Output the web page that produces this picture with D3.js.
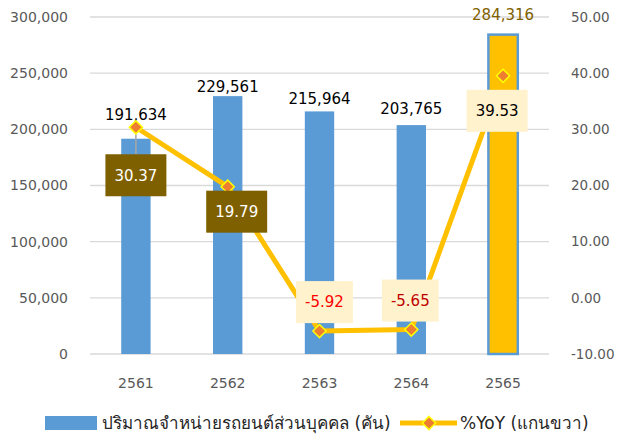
<!DOCTYPE html>
<html lang="th">
<head>
<meta charset="UTF-8">
<title>ปริมาณจำหน่ายรถยนต์ส่วนบุคคล</title>
<script src="https://d3js.org/d3.v7.min.js"></script>
<style>
    body, html { margin: 0; background: #fff; }
    svg text { font-family: 'DejaVu Sans', 'Noto Sans', sans-serif; }
</style>
</head>
<body>
<svg id="chart" width="618" height="434"></svg>
<script>
    // data
    const years = ["2561", "2562", "2563", "2564", "2565"];
    const sales = [191634, 229561, 215964, 203765, 284316];
    const yoy = [30.37, 19.79, -5.92, -5.65, 39.53];
    const leftTicks = [0, 50000, 100000, 150000, 200000, 250000, 300000];
    const rightTicks = [-10, 0, 10, 20, 30, 40, 50];
    const barName = "ปริมาณจำหน่ายรถยนต์ส่วนบุคคล (คัน)";
    const lineName = "%YoY (แกนขวา)";

    // label placement (layout only)
    const salesLabelGap = [24, 9, 13, 16, 20];
    const yoyBox = [
        { dx: 0, dy: 48, fill: "#7F6000", color: "#fff" },
        { dx: 9, dy: 25, fill: "#7F6000", color: "#fff" },
        { dx: 5, dy: -29, fill: "#FFF2CC", color: "#FF0000" },
        { dx: -1, dy: -29, fill: "#FFF2CC", color: "#C00000" },
        { dx: -6, dy: 35, fill: "#FFF2CC", color: "#000" }
    ];

    // hyphen minus like the original
    const loc = d3.formatLocale({ decimal: ".", thousands: ",", grouping: [3], currency: ["", ""], minus: "-" });
    const fmtInt = loc.format(",");
    const fmt2 = loc.format(".2f");

    const svg = d3.select("#chart");
    const plotL = 90, plotR = 549, plotT = 17, plotB = 354;

    const x = d3.scaleBand().domain(years).range([plotL, plotR])
        .paddingInner(0.68).paddingOuter(0.34);
    const y = d3.scaleLinear().domain([0, 300000]).range([plotB, plotT]);
    const y2 = d3.scaleLinear().domain([-10, 50]).range([plotB, plotT]);
    const cx = d => x(d) + x.bandwidth() / 2;

    // gridlines
    svg.append("g").selectAll("line").data(leftTicks).join("line")
        .attr("x1", plotL).attr("x2", plotR)
        .attr("y1", d => y(d)).attr("y2", d => y(d))
        .attr("stroke", "#D9D9D9").attr("stroke-width", 1.3);

    // axes
    const axL = svg.append("g").attr("transform", `translate(${plotL - 22},0)`)
        .call(d3.axisLeft(y).tickValues(leftTicks).tickSize(0).tickFormat(fmtInt));
    const axR = svg.append("g").attr("transform", `translate(${plotR + 22},0)`)
        .call(d3.axisRight(y2).tickValues(rightTicks).tickSize(0).tickFormat(fmt2));
    const axB = svg.append("g").attr("transform", `translate(0,${plotB + 21})`)
        .call(d3.axisBottom(x).tickSize(0));
    [axL, axR, axB].forEach(a => {
        a.select(".domain").remove();
        a.selectAll("text").attr("fill", "#595959")
            .style("font-size", "14px").style("font-family", "'DejaVu Sans', sans-serif");
    });
    axR.selectAll("text").attr("x", 0).style("font-size", "13.5px");
    axL.selectAll("text").attr("x", 0);

    // bars
    svg.append("g").selectAll("rect").data(years).join("rect")
        .attr("x", d => x(d))
        .attr("y", (d, i) => y(sales[i]))
        .attr("width", x.bandwidth())
        .attr("height", (d, i) => plotB - y(sales[i]))
        .attr("fill", (d, i) => i === 4 ? "#FFC000" : "#5B9BD5")
        .attr("stroke", (d, i) => i === 4 ? "#5B9BD5" : "none")
        .attr("stroke-width", 2.5);

    // bar labels
    svg.append("g").selectAll("text").data(years).join("text")
        .attr("x", d => cx(d))
        .attr("y", (d, i) => y(sales[i]) - salesLabelGap[i])
        .attr("dy", "0.35em")
        .attr("text-anchor", "middle")
        .attr("fill", (d, i) => i === 4 ? "#7F6000" : "#000")
        .style("font-size", "15px")
        .text((d, i) => fmtInt(sales[i]));

    // leader lines
    const leaders = svg.append("g").attr("stroke", "#A6A6A6").attr("stroke-width", 1.5);
    leaders.append("line")
        .attr("x1", cx(years[0])).attr("y1", y2(yoy[0]))
        .attr("x2", cx(years[0]) + yoyBox[0].dx).attr("y2", y2(yoy[0]) + yoyBox[0].dy - 21);
    leaders.append("line")
        .attr("x1", cx(years[4])).attr("y1", y2(yoy[4]))
        .attr("x2", cx(years[4]) + yoyBox[4].dx).attr("y2", y2(yoy[4]) + yoyBox[4].dy - 21);

    // yoy line
    svg.append("path")
        .datum(years)
        .attr("fill", "none")
        .attr("stroke", "#FFC000")
        .attr("stroke-width", 5)
        .attr("stroke-linejoin", "round")
        .attr("d", d3.line().x(d => cx(d)).y((d, i) => y2(yoy[i])));

    const diamond = d3.symbol().type(d3.symbolDiamond2).size(110);
    svg.append("g").selectAll("path").data(years).join("path")
        .attr("transform", (d, i) => `translate(${cx(d)},${y2(yoy[i])})`)
        .attr("d", diamond)
        .attr("fill", "#ED7D31")
        .attr("stroke", "#FFFF00")
        .attr("stroke-width", 1.5);

    // yoy labels
    const lab = svg.append("g").selectAll("g").data(years).join("g")
        .attr("transform", (d, i) => `translate(${cx(d) + yoyBox[i].dx},${y2(yoy[i]) + yoyBox[i].dy})`);
    lab.append("text")
        .attr("text-anchor", "middle")
        .attr("dy", "0.35em")
        .attr("fill", (d, i) => yoyBox[i].color)
        .style("font-size", "15px")
        .text((d, i) => fmt2(yoy[i]));
    lab.each(function (d, i) {
        const g = d3.select(this);
        const w = g.select("text").node().getBBox().width + 18;
        g.insert("rect", "text")
            .attr("x", -w / 2).attr("y", -21)
            .attr("width", w).attr("height", 42)
            .attr("fill", yoyBox[i].fill);
    });

    // legend
    const leg = svg.append("g");
    leg.append("rect").attr("x", 45).attr("y", 416).attr("width", 52).attr("height", 14)
        .attr("fill", "#5B9BD5");
    leg.append("text").attr("x", 102).attr("y", 423).attr("dy", "0.35em")
        .attr("fill", "#262626").style("font-size", "17px").text(barName);
    leg.append("line").attr("x1", 400).attr("x2", 457).attr("y1", 423).attr("y2", 423)
        .attr("stroke", "#FFC000").attr("stroke-width", 5);
    leg.append("path").attr("transform", "translate(429,423)").attr("d", diamond)
        .attr("fill", "#ED7D31").attr("stroke", "#FFFF00").attr("stroke-width", 1.5);
    leg.append("text").attr("x", 460).attr("y", 423).attr("dy", "0.35em")
        .attr("fill", "#262626").style("font-size", "17px").text(lineName);
</script>
</body>
</html>
